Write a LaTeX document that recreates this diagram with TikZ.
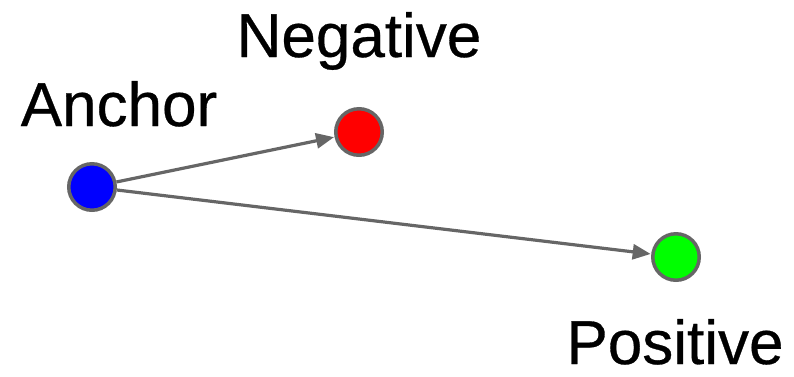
\documentclass[tikz,border=0pt]{standalone}
\usepackage{fontspec}
\setmainfont{Liberation Sans}
\newfontfamily\lblfont[FakeBold=0.5]{Liberation Sans}
\usetikzlibrary{arrows.meta}
\definecolor{edgegray}{HTML}{666666}
\begin{document}
\begin{tikzpicture}[x=1pt,y=-1pt,
  ball/.style={circle,draw=edgegray,line width=3.5pt,minimum size=46.5pt,inner sep=0pt},
  lbl/.style={anchor=base,font=\lblfont\fontsize{62}{74}\selectfont,inner sep=0pt},
  conn/.style={draw=edgegray,line width=3.2pt,-{Triangle[length=18pt,width=15pt]},shorten >=0.5pt}]
\useasboundingbox (0,0) rectangle (794,376);
\node[ball,fill=blue] (anc) at (92,187) {};
\node[ball,fill=red] (neg) at (359,132) {};
\node[ball,fill=green] (pos) at (676,257) {};
\node[lbl] (ancl) at (119,126) {Anchor};
\node[lbl] (negl) at (359,57) {Negative};
\node[lbl] (posl) at (675,364) {Positive};
\draw[conn] (anc) -- (neg);
\draw[conn] (anc) -- (pos);
\end{tikzpicture}
\end{document}
